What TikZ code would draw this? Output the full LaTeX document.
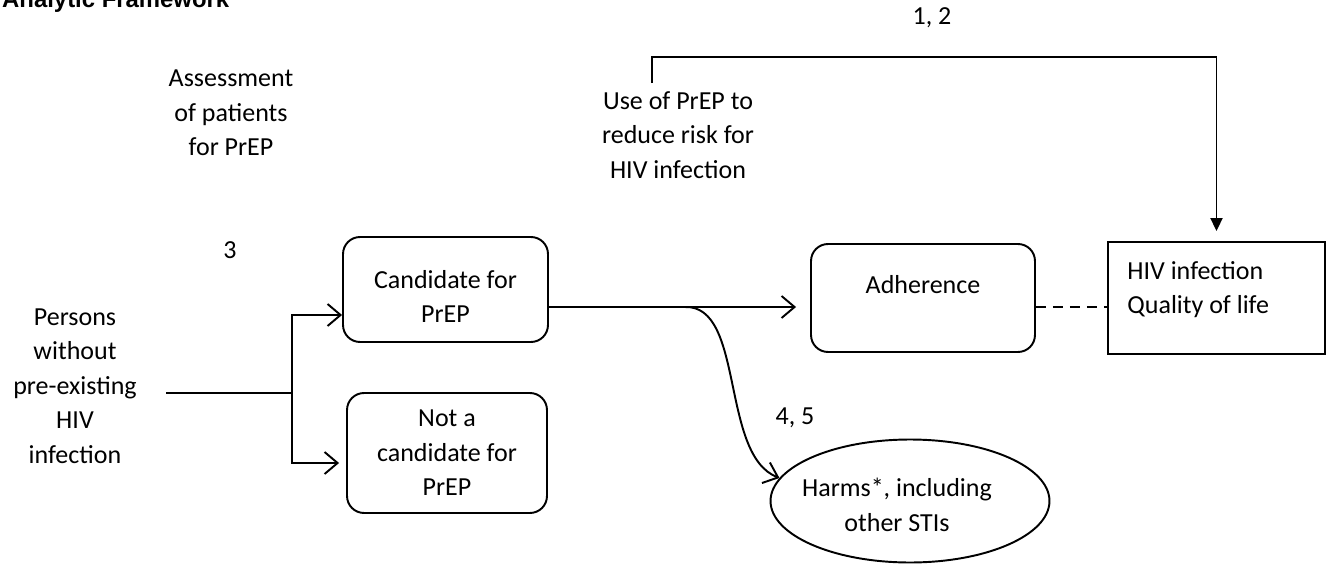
\documentclass[tikz,border=0pt]{standalone}
\usepackage{fontspec}
\setmainfont{Carlito}
\newfontfamily\headfont{Liberation Sans}
\usepackage{tikz}
\usetikzlibrary{calc,arrows.meta,positioning,shapes.geometric}
\tikzset{
  txt/.style={align=center, inner sep=0pt},
  rbox/.style={draw=black, line width=1.1pt, rounded corners=0.34cm, align=center, inner sep=0pt},
  sqbox/.style={draw=black, line width=1.1pt, inner sep=0pt},
  oval/.style={draw=black, line width=1.1pt, ellipse, align=center, inner sep=0pt,
    minimum width=5.58cm, minimum height=2.46cm},
  ln/.style={line width=1.1pt},
  openarr/.style={-{Straight Barb[length=0.26cm,width=0.44cm]}, line width=1.1pt},
  fillarr/.style={-{Triangle[length=0.26cm,width=0.24cm]}, line width=1.1pt},
  dashline/.style={line width=1.1pt, dash pattern=on 0.2cm off 0.14cm}
}

\begin{document}
\begin{tikzpicture}[x=0.02cm, y=-0.02cm, font=\fontsize{14.8}{19.6}\selectfont]
  \useasboundingbox (0,0) rectangle (1330,565);

  \node[anchor=base west, font=\headfont\bfseries\fontsize{13.6}{16}\selectfont] (title) at (-4,7) {Analytic Framework};
  \node (kq12) at (932,18) {1, 2};
  \node[txt] (assess) at (231,113) {Assessment\\of patients\\for PrEP};
  \node[txt] (useprep) at (678,135) {Use of PrEP to\\reduce risk for\\HIV infection};
  \node (kq3) at (230,250) {3};
  \node[txt] (persons) at (75,386) {Persons\\without\\pre-existing\\HIV\\infection};

  \node[rbox, minimum width=4.1cm, minimum height=2.1cm,
    label={[align=center, yshift=-0.14cm]center:{Candidate for\\PrEP}}] (cand) at (445.5,289.5) {};
  \node[rbox, minimum width=4.0cm, minimum height=2.4cm] (notcand) at (447,453) {Not a\\candidate for\\PrEP};
  \node[rbox, minimum width=4.48cm, minimum height=2.16cm,
    label={[yshift=0.26cm]center:Adherence}] (adh) at (923,298) {};
  \node[sqbox, minimum width=4.34cm, minimum height=2.24cm,
    label={[anchor=north west, align=left, inner sep=0pt, xshift=0.4cm, yshift=-0.4cm]north west:{HIV infection\\Quality of life}}] (hiv) at (1216.5,298) {};
  \node[oval, label={[align=center, xshift=-0.26cm, yshift=-0.08cm]center:{Harms*, including\\other STIs}}] (harms) at (910,501) {};
  \node (kq45) at (795,418) {4, 5};

  % split to the two candidate boxes
  \coordinate (feed) at (166,393);
  \coordinate (split) at (292,393);
  \draw[ln] (feed) -- (split);
  \draw[openarr] (split) |- ([yshift=-0.51cm]cand.west);
  \draw[openarr, shorten >=0.14cm] (split) |- ([yshift=-0.2cm]notcand.west);

  \coordinate (branch) at (685,307);
  \draw[openarr, shorten >=0.28cm] ([yshift=-0.35cm]cand.east) -- ([yshift=-0.35cm]cand.east -| adh.west);
  \draw[openarr] (branch) .. controls (745,305) and (720,455) .. (harms.170);
  \draw[dashline] ([yshift=-0.18cm]adh.east) -- ([yshift=-0.18cm]adh.east -| hiv.west);

  % overarching arrow
  \coordinate (usetick) at (652,83);
  \coordinate (bartop) at (652,57);
  \draw[fillarr, shorten >=0.2cm] (usetick) -- (bartop) -| (hiv.north);
\end{tikzpicture}
\end{document}
